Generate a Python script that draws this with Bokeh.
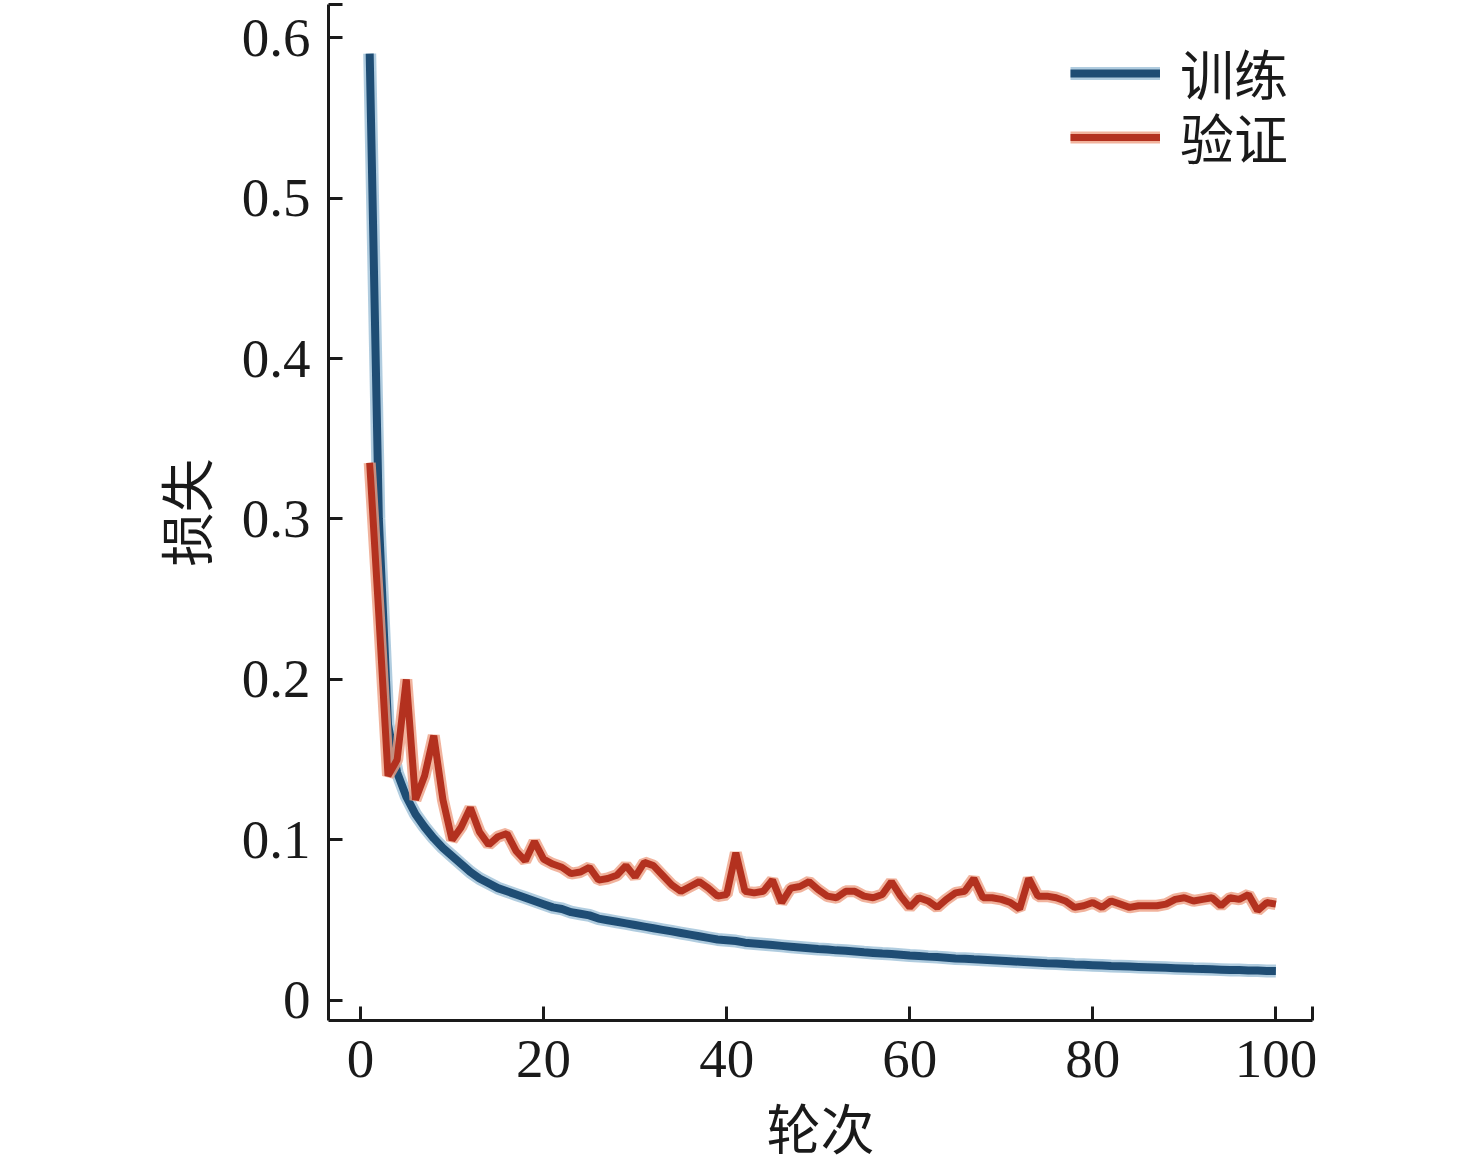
from bokeh.plotting import figure
from bokeh.models import Range1d, FixedTicker, Legend, LegendItem
from bokeh.embed import file_html
from bokeh.resources import INLINE

epochs = list(range(1, 101))

train_loss = [
    0.590, 0.300, 0.172, 0.142, 0.127, 0.116, 0.108, 0.101, 0.095, 0.090,
    0.085, 0.080, 0.076, 0.073, 0.070, 0.068, 0.066, 0.064, 0.062, 0.060,
    0.058, 0.057, 0.055, 0.054, 0.053, 0.051, 0.050, 0.049, 0.048, 0.047,
    0.046, 0.045, 0.044, 0.043, 0.042, 0.041, 0.040, 0.039, 0.038, 0.0375,
    0.037, 0.036, 0.0355, 0.035, 0.0345, 0.034, 0.0335, 0.033, 0.0325, 0.032,
    0.0318, 0.0312, 0.031, 0.0305, 0.030, 0.0296, 0.0292, 0.029, 0.0285, 0.028,
    0.0277, 0.0273, 0.027, 0.0266, 0.0262, 0.026, 0.0256, 0.0253, 0.025, 0.0247,
    0.0244, 0.0241, 0.0238, 0.0235, 0.0232, 0.023, 0.0227, 0.0224, 0.0222, 0.022,
    0.0218, 0.0215, 0.0213, 0.0211, 0.0209, 0.0207, 0.0205, 0.0203, 0.0201, 0.0199,
    0.0197, 0.0196, 0.0194, 0.0192, 0.019, 0.0189, 0.0187, 0.0186, 0.0184, 0.0183,
]

val_loss = [
    0.335, 0.240, 0.140, 0.150, 0.200, 0.125, 0.140, 0.165, 0.125, 0.100,
    0.108, 0.120, 0.105, 0.097, 0.102, 0.104, 0.093, 0.087, 0.099, 0.088,
    0.085, 0.083, 0.079, 0.080, 0.083, 0.075, 0.076, 0.078, 0.084, 0.077,
    0.086, 0.084, 0.078, 0.072, 0.068, 0.071, 0.074, 0.070, 0.065, 0.066,
    0.092, 0.068, 0.067, 0.068, 0.075, 0.061, 0.070, 0.071, 0.074, 0.069,
    0.065, 0.064, 0.068, 0.068, 0.065, 0.064, 0.066, 0.074, 0.065, 0.058,
    0.064, 0.062, 0.058, 0.063, 0.067, 0.068, 0.076, 0.064, 0.064, 0.063,
    0.061, 0.057, 0.076, 0.065, 0.065, 0.064, 0.062, 0.058, 0.059, 0.061,
    0.058, 0.062, 0.060, 0.058, 0.059, 0.059, 0.059, 0.060, 0.063, 0.064,
    0.062, 0.063, 0.064, 0.059, 0.064, 0.063, 0.066, 0.056, 0.061, 0.060,
]

x_ticks = [0, 20, 40, 60, 80, 100]
y_ticks = [0, 0.1, 0.2, 0.3, 0.4, 0.5, 0.6]
y_tick_labels = ["0", "0.1", "0.2", "0.3", "0.4", "0.5", "0.6"]
series_names = ["训练", "验证"]

X_START, X_END = -3.5, 104.0
Y_START, Y_END = -0.0125, 0.6206

p = figure(
    width=1470, height=1171,
    output_backend="svg", toolbar_location=None,
    x_range=Range1d(X_START, X_END), y_range=Range1d(Y_START, Y_END),
    min_border_left=328, min_border_right=158,
    min_border_top=4, min_border_bottom=151,
)
p.outline_line_color = None
p.grid.visible = False
p.background_fill_color = "white"
p.border_fill_color = "white"

serif = "Liberation Serif"
cjk = "Noto Sans CJK SC"

for ax, ticks in ((p.xaxis, x_ticks + [X_END]), (p.yaxis, y_ticks + [Y_END])):
    ax.ticker = FixedTicker(ticks=ticks)
    ax.minor_tick_line_color = None
    ax.major_tick_in = 14
    ax.major_tick_out = 0
    ax.major_tick_line_width = 3
    ax.major_tick_line_color = "#1a1a1a"
    ax.axis_line_width = 3
    ax.axis_line_color = "#1a1a1a"
    ax.major_label_text_font = serif
    ax.major_label_text_font_size = "55px"
    ax.major_label_text_color = "#1a1a1a"
    ax.axis_label_text_font = cjk
    ax.axis_label_text_font_size = "54px"
    ax.axis_label_text_font_style = "normal"
    ax.axis_label_text_color = "#1a1a1a"

p.xaxis.major_label_overrides = {X_END: ""}
over = {t: l for t, l in zip(y_ticks, y_tick_labels)}
over[Y_END] = ""
p.yaxis.major_label_overrides = over
p.xaxis.major_label_standoff = 20
p.yaxis.major_label_standoff = 18
p.xaxis.axis_label = "轮次"
p.yaxis.axis_label = "损失"
p.xaxis.axis_label_standoff = 7
p.yaxis.axis_label_standoff = 15

blue_halo = p.line(epochs, train_loss, line_color="#8fb6d2", line_width=13, line_alpha=0.7)
blue_core = p.line(epochs, train_loss, line_color="#1f4d74", line_width=8)
red_halo = p.line(epochs, val_loss, line_color="#eea084", line_width=12, line_alpha=0.8)
red_core = p.line(epochs, val_loss, line_color="#b3311f", line_width=7)

legend_style = dict(
    orientation="vertical",
    glyph_width=90, glyph_height=60, label_height=60,
    label_standoff=20, spacing=0, padding=0, margin=0,
    label_text_font=cjk, label_text_font_size="54px", label_text_color="#1a1a1a",
    border_line_color=None, background_fill_alpha=0,
)
legend_train = Legend(
    items=[LegendItem(label=series_names[0], renderers=[blue_halo, blue_core])],
    location=(742, 908), **legend_style,
)
legend_val = Legend(
    items=[LegendItem(label=series_names[1], renderers=[red_halo, red_core])],
    location=(742, 844), **legend_style,
)
p.add_layout(legend_train)
p.add_layout(legend_val)

open("out.html", "w").write(file_html(p, INLINE))
